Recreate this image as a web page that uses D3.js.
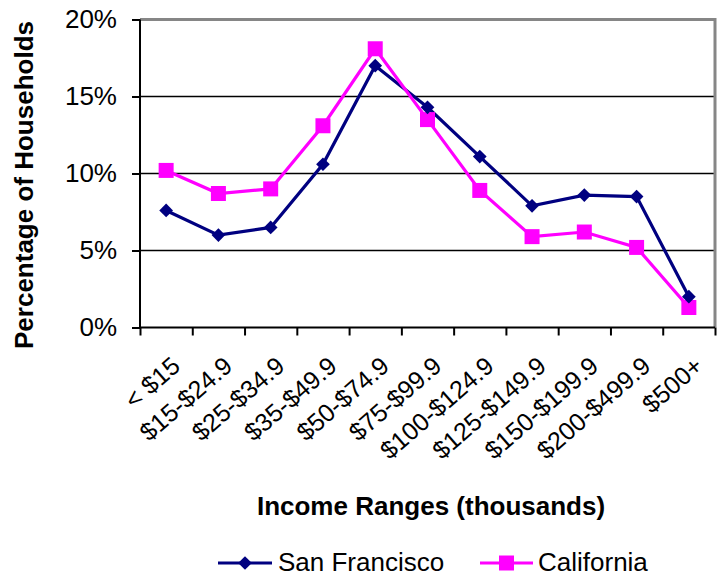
<!DOCTYPE html>
<html><head><meta charset="utf-8">
<script src="https://cdn.jsdelivr.net/npm/d3@7"></script>
<style>
html,body{margin:0;padding:0;background:#fff;}
svg{display:block;font-family:"Liberation Sans",Arial,sans-serif;}
</style></head>
<body><svg id="c" width="719" height="576"></svg>
<script>
const categories = ["< $15","$15-$24.9","$25-$34.9","$35-$49.9","$50-$74.9","$75-$99.9","$100-$124.9","$125-$149.9","$150-$199.9","$200-$499.9","$500+"];
const sanFrancisco = [7.6, 6.0, 6.5, 10.6, 17.0, 14.3, 11.1, 7.9, 8.6, 8.5, 2.0];
const california = [10.2, 8.7, 9.0, 13.1, 18.1, 13.5, 8.9, 5.9, 6.2, 5.2, 1.3];
const yTicks = [0, 5, 10, 15, 20];
const seriesNames = ["San Francisco", "California"];

const svg = d3.select("#c");
const L = 140, R = 715, T = 19.5, B = 327.5;
const x = d3.scaleBand().domain(categories).range([L, R]).padding(0);
const xEdge = d3.scaleLinear().domain([0, categories.length]).range([L, R]);
const y = d3.scaleLinear().domain([0, 20]).range([B, T]);

svg.append("g").selectAll("line").data(yTicks.filter(d => d > 0 && d < 20)).join("line")
  .attr("x1", L).attr("x2", R).attr("y1", d => y(d)).attr("y2", d => y(d))
  .attr("stroke", "#000").attr("stroke-width", 1.3);

svg.append("path").attr("d", `M${L},${T}H${R}V${B}`).attr("fill", "none")
  .attr("stroke", "#868686").attr("stroke-width", 3);

const ya = svg.append("g").attr("transform", `translate(${L},0)`)
  .call(d3.axisLeft(y).tickValues(yTicks).tickFormat(d => d + "%").tickSize(8).tickPadding(15));
ya.select(".domain").attr("stroke", "#000").attr("stroke-width", 2).attr("d", `M0,${T}V${B}`);
ya.selectAll(".tick line").attr("stroke", "#000").attr("stroke-width", 2);
ya.selectAll("text").attr("font-size", 26).attr("fill", "#000").attr("font-family", "Liberation Sans, Arial, sans-serif");

const xa = svg.append("g").attr("transform", `translate(0,${B})`)
  .call(d3.axisBottom(xEdge).tickValues(d3.range(categories.length + 1)).tickFormat("").tickSize(8));
xa.select(".domain").attr("stroke", "#000").attr("stroke-width", 2).attr("d", `M${L},0H${R}`);
xa.selectAll(".tick line").attr("stroke", "#000").attr("stroke-width", 2);

svg.append("g").selectAll("text").data(categories).join("text")
  .attr("transform", d => `translate(${x(d) + x.bandwidth() / 2 + 4},355) rotate(-41)`)
  .attr("text-anchor", "end").attr("dy", "0.71em")
  .attr("font-size", 25).attr("fill", "#000").text(d => d);

svg.append("text").attr("x", 431).attr("y", 515).attr("text-anchor", "middle")
  .attr("font-size", 26).attr("font-weight", "bold").text("Income Ranges (thousands)");
svg.append("text").attr("transform", "translate(33,185) rotate(-90)").attr("text-anchor", "middle")
  .attr("font-size", 26).attr("font-weight", "bold").text("Percentage of Households");

const colors = ["#000080", "#FF00FF"];
const line = d3.line().x((d, i) => x(categories[i]) + x.bandwidth() / 2).y(d => y(d));
const diamond = d3.symbol().type(d3.symbolDiamond2).size(120);
const square = d3.symbol().type(d3.symbolSquare).size(225);

svg.append("path").datum(sanFrancisco).attr("d", line).attr("fill", "none")
  .attr("stroke", colors[0]).attr("stroke-width", 3.2);
svg.append("path").datum(california).attr("d", line).attr("fill", "none")
  .attr("stroke", colors[1]).attr("stroke-width", 3.2);
svg.append("g").selectAll("path").data(california).join("path")
  .attr("transform", (d, i) => `translate(${x(categories[i]) + x.bandwidth() / 2},${y(d)})`)
  .attr("d", square).attr("fill", colors[1]);
svg.append("g").selectAll("path").data(sanFrancisco).join("path")
  .attr("transform", (d, i) => `translate(${x(categories[i]) + x.bandwidth() / 2},${y(d)})`)
  .attr("d", diamond).attr("fill", colors[0]);

const leg = [
  {name: seriesNames[0], x1: 218, x2: 272, tx: 278, sym: diamond, c: colors[0]},
  {name: seriesNames[1], x1: 480, x2: 533, tx: 538, sym: square, c: colors[1]}
];
const lg = svg.append("g");
leg.forEach(l => {
  lg.append("line").attr("x1", l.x1).attr("x2", l.x2).attr("y1", 563).attr("y2", 563)
    .attr("stroke", l.c).attr("stroke-width", 3.2);
  lg.append("path").attr("transform", `translate(${(l.x1 + l.x2) / 2},563)`).attr("d", l.sym).attr("fill", l.c);
  lg.append("text").attr("x", l.tx).attr("y", 571).attr("font-size", 26).attr("fill", "#000").text(l.name);
});
</script></body></html>
